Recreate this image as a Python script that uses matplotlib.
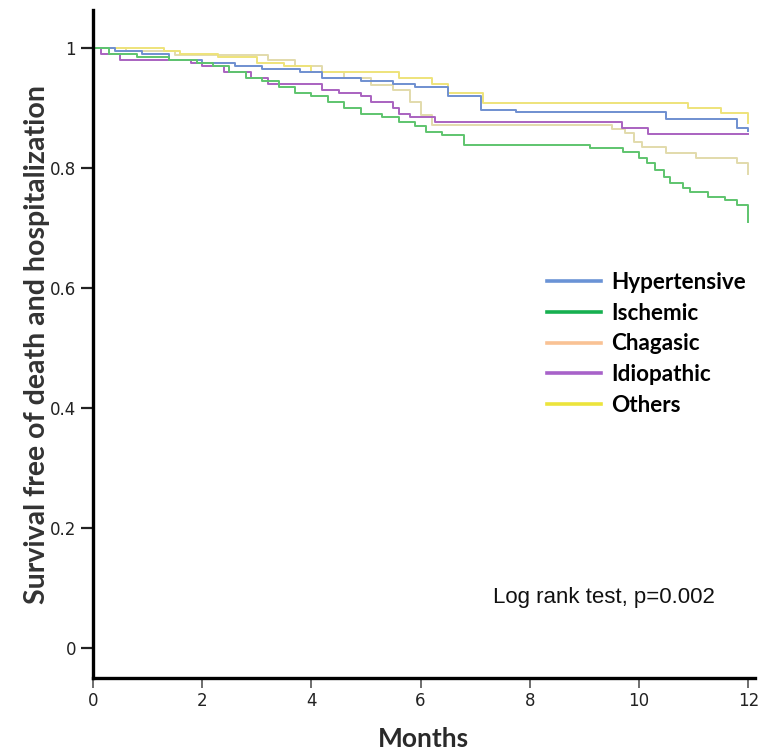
import numpy as np
import matplotlib
matplotlib.use('Agg')
import matplotlib.pyplot as plt
from matplotlib.lines import Line2D

# Kaplan-Meier style curves (months, survival)
hyper_t = [0, 0.4, 0.9, 1.4, 2.0, 2.6, 3.1, 3.8, 4.2, 4.9, 5.5, 5.9, 6.5, 7.1, 7.75, 10.5, 11.8, 12.0]
hyper_s = [1, 0.995, 0.99, 0.98, 0.975, 0.97, 0.965, 0.96, 0.95, 0.945, 0.94, 0.935, 0.92, 0.897, 0.893, 0.882, 0.867, 0.862]

isch_t = [0, 0.3, 0.8, 1.4, 1.9, 2.2, 2.5, 2.8, 3.1, 3.4, 3.7, 4.0, 4.3, 4.6, 4.9, 5.3, 5.6, 5.9, 6.1, 6.4, 6.8,
          9.1, 9.7, 10.0, 10.15, 10.3, 10.45, 10.57, 10.8, 10.93, 11.26, 11.57, 11.8, 12.0]
isch_s = [1, 0.99, 0.985, 0.98, 0.975, 0.97, 0.96, 0.95, 0.945, 0.935, 0.925, 0.92, 0.91, 0.9, 0.89, 0.885, 0.877, 0.87, 0.86, 0.855, 0.838,
          0.833, 0.827, 0.817, 0.808, 0.797, 0.785, 0.775, 0.767, 0.76, 0.752, 0.747, 0.738, 0.71]

chag_t = [0, 0.6, 1.5, 3.2, 3.7, 4.2, 4.6, 5.1, 5.5, 5.8, 6.0, 6.2, 9.5, 9.75, 9.9, 10.05, 10.5, 11.05, 11.8, 12.0]
chag_s = [1, 0.995, 0.988, 0.98, 0.97, 0.96, 0.95, 0.938, 0.93, 0.91, 0.888, 0.872, 0.865, 0.858, 0.843, 0.835, 0.825, 0.817, 0.808, 0.79]

idio_t = [0, 0.15, 0.5, 1.8, 2.0, 2.4, 2.9, 3.2, 4.2, 4.5, 4.9, 5.1, 5.5, 5.6, 5.8, 6.26, 9.69, 10.16, 12.0]
idio_s = [1, 0.99, 0.98, 0.975, 0.97, 0.96, 0.95, 0.94, 0.93, 0.925, 0.92, 0.91, 0.9, 0.89, 0.885, 0.877, 0.867, 0.857, 0.857]

oth_t = [0, 1.3, 1.6, 2.3, 3.0, 3.5, 4.0, 5.6, 6.2, 6.5, 7.15, 10.9, 11.5, 12.0]
oth_s = [1, 0.995, 0.99, 0.985, 0.975, 0.97, 0.96, 0.95, 0.94, 0.925, 0.908, 0.90, 0.892, 0.875]

labels = ['Hypertensive', 'Ischemic', 'Chagasic', 'Idiopathic', 'Others']
curve_colors = ['#6f8fd0', '#5ec46e', '#e2dbab', '#a962c0', '#eee37a']
legend_colors = ['#6a93d6', '#17b050', '#f9c294', '#a862c9', '#ece43c']

x_ticks = [0, 2, 4, 6, 8, 10, 12]
y_ticks = [0, 0.2, 0.4, 0.6, 0.8, 1]
y_tick_labels = ['0', '0.2', '0.4', '0.6', '0.8', '1']

fig = plt.figure(figsize=(7.61, 7.52), dpi=100)
ax = fig.add_axes([0.122, 0.0984, 0.870, 0.888])

curves = [(hyper_t, hyper_s), (isch_t, isch_s), (chag_t, chag_s), (idio_t, idio_s), (oth_t, oth_s)]
# draw pale ones first so strong colours sit on top
order = [2, 4, 3, 0, 1]
for i in order:
    t, s = curves[i]
    ax.plot(t, s, drawstyle='steps-post', color=curve_colors[i], lw=1.4)

ax.set_xlim(0, 12.12)
ax.set_ylim(-0.05, 1.063)

for side in ['top', 'right']:
    ax.spines[side].set_visible(False)
for side in ['left', 'bottom']:
    ax.spines[side].set_linewidth(2.4)
    ax.spines[side].set_color('black')

tick_font = ['Liberation Sans Narrow', 'DejaVu Sans']
ax.set_xticks(x_ticks)
ax.set_xticklabels([str(v) for v in x_ticks], fontsize=12, family=tick_font, color='#222222')
ax.set_yticks(y_ticks)
ax.set_yticklabels(y_tick_labels, fontsize=12, family=tick_font, color='#222222')
ax.tick_params(axis='x', direction='out', length=7, width=1.2, color='#555555', pad=3)
ax.tick_params(axis='y', direction='out', length=9, width=1.6, color='#222222', pad=3)

label_font = ['Lato', 'DejaVu Sans']
ax.set_xlabel('Months', fontsize=19, fontweight='bold', family=label_font, color='#2a2a2a', labelpad=12)
ax.set_ylabel('Survival free of death and hospitalization', fontsize=20.5, fontweight='bold',
              family=label_font, color='#333333', labelpad=0)

handles = [Line2D([0], [0], color=c, lw=2.6) for c in legend_colors]
leg = ax.legend(handles, labels, loc='upper left', bbox_to_anchor=(0.672, 0.622), frameon=False,
                borderaxespad=0, handlelength=2.4, handletextpad=0.45, labelspacing=0.44,
                prop={'family': label_font, 'weight': 'bold', 'size': 16.2})

ax.text(0.604, 0.112, 'Log rank test, p=0.002', transform=ax.transAxes, fontsize=16,
        family=['Liberation Sans', 'DejaVu Sans'], color='#111111')

fig.savefig('out.png', dpi=100)
